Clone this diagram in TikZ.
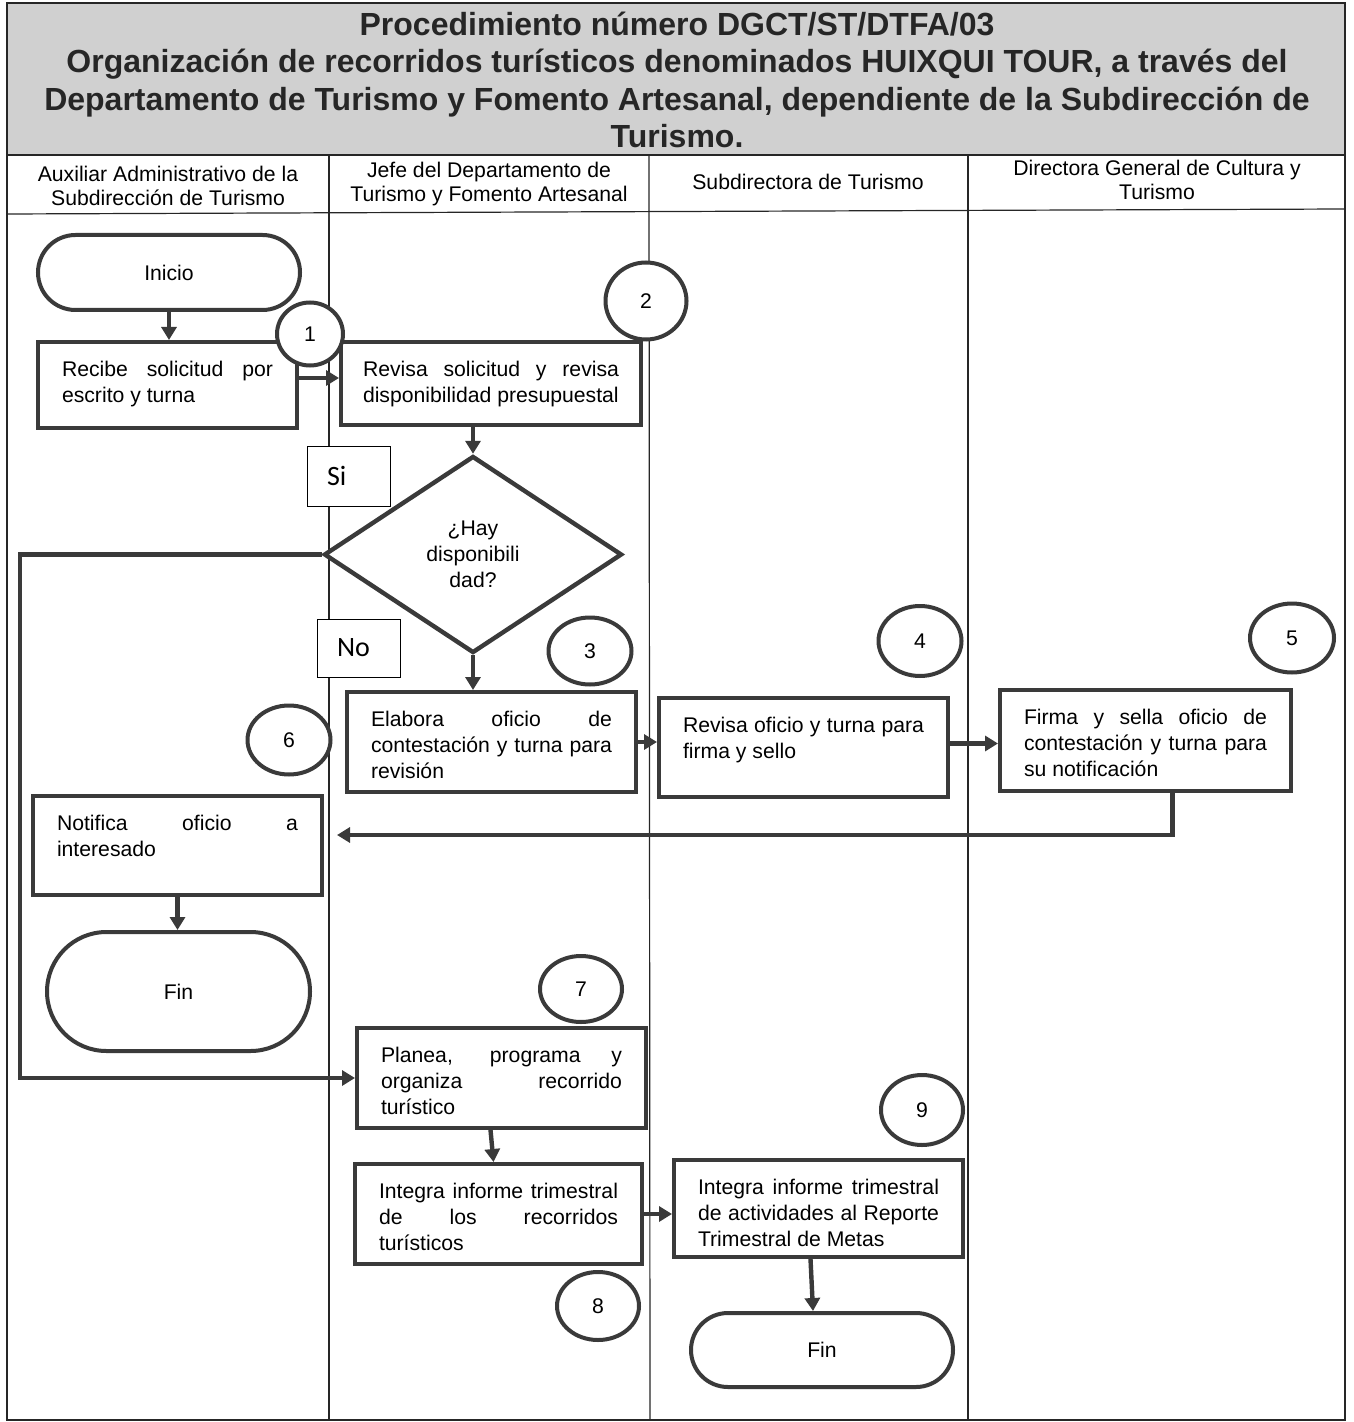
\documentclass[tikz,border=0pt]{standalone}
\usepackage{fontspec}
\setmainfont{Liberation Sans}
\newfontfamily\calibfnt{Carlito}
\usetikzlibrary{shapes.geometric,shapes.misc,arrows.meta}
\definecolor{ink}{HTML}{3A3A3A}
\definecolor{band}{HTML}{D0D0D0}
\newcommand\myfnt{\fontsize{10.6}{13}\selectfont}
\newcommand\mytxt[3]{\begin{minipage}[c][#2][t]{#1}\tolerance=10000\hbadness=10000\hyphenpenalty=10000\noindent\rule{0pt}{11.1pt}#3\end{minipage}}
\begin{document}
\begin{tikzpicture}[x=0.5pt,y=-0.5pt,
  lane/.style={line width=0.6pt,draw=black!85},
  box/.style={draw=ink,line width=2pt,fill=white,inner xsep=12pt,inner ysep=6pt,font=\myfnt},
  term/.style={draw=ink,line width=2pt,fill=white,rounded rectangle,inner sep=0pt,font=\myfnt},
  num/.style={draw=ink,line width=2pt,fill=white,ellipse,inner sep=0pt,font=\myfnt},
  tag/.style={draw=black,line width=0.5pt,fill=white,font=\calibfnt\fontsize{14}{16}\selectfont,
    text width=21.5pt,inner xsep=10pt,inner ysep=0pt,align=left},
  arr/.style={draw=ink,line width=2.2pt,-{Triangle[length=6.5pt,width=7.5pt]}},
  hdr/.style={font=\fontsize{10.6}{12}\selectfont,align=center,inner sep=0pt},
  ]
\useasboundingbox (0,0) rectangle (1353,1422);
% frame and lanes
\fill[band] (7,3) rectangle (1345,155);
\draw[lane] (7,3) rectangle (1345,1420);
\draw[lane] (7,155) -- (1345,155);
\draw[lane] (7,214) -- (1345,209);
\draw[lane] (329,155) -- (329,1420);
\draw[lane] (649,155) -- (650,1420);
\draw[lane] (968,155) -- (968,1420);
% title
\node[font=\fontsize{16}{18.6}\selectfont\bfseries,text=black!85,align=center,inner sep=0pt] (title) at (677,80)
 {Procedimiento número DGCT/ST/DTFA/03\\
  Organización de recorridos turísticos denominados HUIXQUI TOUR, a través del\\
  Departamento de Turismo y Fomento Artesanal, dependiente de la Subdirección de\\
  Turismo.};
% headers
\node[hdr] (h1) at (168,186) {Auxiliar Administrativo de la\\Subdirección de Turismo};
\node[hdr] (h2) at (489,184) {Jefe del Departamento de\\Turismo y Fomento Artesanal};
\node[hdr] (h3) at (808,182) {Subdirectora de Turismo};
\node[hdr] (h4) at (1157,180) {Directora General de Cultura y\\Turismo};
% terminals
\node[term,minimum width=131pt,minimum height=37.5pt] (ini) at (169,272.5) {Inicio};
\node[term,minimum width=131.5pt,minimum height=59.5pt] (fin1) at (178.5,991.5) {Fin};
\node[term,minimum width=131pt,minimum height=37pt] (fin2) at (822,1350) {Fin};
% process boxes
\node[box] (b1) at (167.5,385) {\mytxt{105.5pt}{31pt}{Recibe solicitud por\linebreak escrito y turna}};
\node[box,inner xsep=11pt] (b2) at (491,383.5) {\mytxt{128pt}{29.5pt}{Revisa solicitud y revisa\linebreak disponibilidad presupuestal}};
\node[box] (b3) at (491.5,742) {\mytxt{120.5pt}{38pt}{Elabora oficio de\linebreak contestación y turna para\linebreak revisión}};
\node[box] (b4) at (803.5,747.5) {\mytxt{120.5pt}{37.5pt}{Revisa oficio y turna para\linebreak firma y sello}};
\node[box] (b5) at (1145.5,740.5) {\mytxt{121.5pt}{38.5pt}{Firma y sella oficio de\linebreak contestación y turna para\linebreak su notificación}};
\node[box] (b6) at (177.5,845.5) {\mytxt{120.5pt}{37.5pt}{Notifica oficio a\linebreak interesado}};
\node[box] (b7) at (501.5,1078) {\mytxt{120.5pt}{38pt}{Planea, programa y\linebreak organiza recorrido\linebreak turístico}};
\node[box] (b8) at (498.5,1214) {\mytxt{119.5pt}{38pt}{Integra informe trimestral\linebreak de los recorridos\linebreak turísticos}};
\node[box] (b9) at (818.5,1208.5) {\mytxt{120.5pt}{36.5pt}{Integra informe trimestral\linebreak de actividades al Reporte\linebreak Trimestral de Metas}};
% decision
\node[diamond,draw=ink,line width=2.2pt,fill=white,minimum width=149pt,minimum height=98.5pt,inner sep=0pt,
  align=center,font=\myfnt] (d) at (473,554.5) {¿Hay\\disponibili\\dad?};
% Si / No tags
\node[tag,minimum height=30pt] (si) at (348.5,476) {Si};
\node[tag,minimum height=29pt] (no) at (358.5,648) {No};
% connectors
\coordinate (n6) at (337,835);
\draw[arr] (ini.south) -- (ini.south |- b1.north);
\draw[arr] ([yshift=3.5pt]b1.east) -- ([yshift=3.5pt]b1.east -| b2.west);
\draw[arr] (b2.south -| d.north) -- (d.north);
\draw[arr] (d.west) -- ++(-302,0) |- (b7.west);
\draw[arr] (d.south) -- (d.south |- b3.north);
\draw[arr] (b3.east) -- (b3.east -| b4.west);
\draw[arr] ([yshift=2pt]b4.east) -- ([yshift=2pt]b4.east -| b5.west);
\draw[arr] ([xshift=13.5pt]b5.south) |- (n6);
\draw[arr] (b6.south) -- (b6.south |- fin1.north);
\draw[arr] ([xshift=-5.5pt]b7.south) -- ([xshift=-2.5pt]b8.north);
\draw[arr] (b8.east) -- (b8.east -| b9.west);
\draw[arr] ([xshift=-4pt]b9.south) -- ([xshift=-4.5pt]fin2.north);
% step numbers
\node[num,minimum width=33pt,minimum height=31.5pt] (c1) at (310,334) {1};
\node[num,minimum width=40.5pt,minimum height=38.5pt] (c2) at (646,301) {2};
\node[num,minimum width=41.5pt,minimum height=33.5pt] (c3) at (590,651) {3};
\node[num,minimum width=41.5pt,minimum height=35pt] (c4) at (920,641) {4};
\node[num,minimum width=42pt,minimum height=34.5pt] (c5) at (1292,638) {5};
\node[num,minimum width=41.5pt,minimum height=34.5pt] (c6) at (289,740) {6};
\node[num,minimum width=41pt,minimum height=33pt] (c7) at (581,989) {7};
\node[num,minimum width=41pt,minimum height=34pt] (c8) at (598,1306) {8};
\node[num,minimum width=41pt,minimum height=35pt] (c9) at (922,1110) {9};
\end{tikzpicture}
\end{document}
